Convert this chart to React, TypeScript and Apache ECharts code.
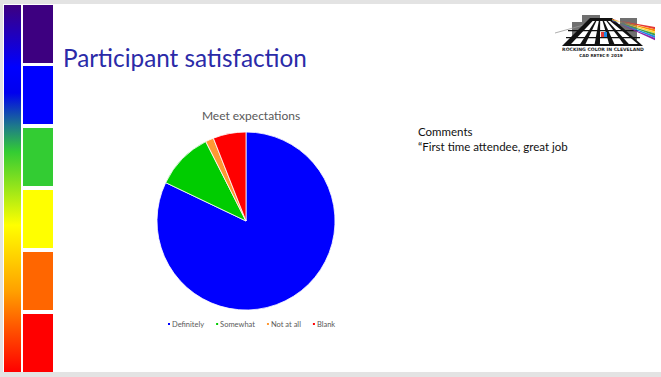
import React, { useEffect, useRef } from "react";
import * as echarts from "echarts";

const categories = ["Definitely", "Somewhat", "Not at all", "Blank"];
const counts = [55, 7, 1, 4];
const sliceColors = ["#0000FF", "#00CC00", "#FF9933", "#FF0000"];
const slideTitle = "Participant satisfaction";
const chartTitle = "Meet expectations";
const commentLines = ["Comments", "\u201CFirst time attendee, great job"];
const squareColors = ["#3D0080", "#0000FF", "#33CC33", "#FFFF00", "#FF6600", "#FF0000"];
const rainbow = ["#E53935", "#FB8C00", "#FDD835", "#43A047", "#1E88E5", "#8E24AA"];

export default function App() {
  const ref = useRef<HTMLDivElement>(null);
  useEffect(() => {
    document.body.style.margin = "0";
    const chart = echarts.init(ref.current!, undefined, { renderer: "svg" });
    const graphics: any[] = [];
    graphics.push({ type: "rect", shape: { x: 0, y: 0, width: 661, height: 4 }, style: { fill: "#E3E3E3" }, silent: true });
    graphics.push({ type: "rect", shape: { x: 0, y: 372, width: 661, height: 5 }, style: { fill: "#E3E3E3" }, silent: true });
    graphics.push({ type: "rect", shape: { x: 0, y: 0, width: 3, height: 377 }, style: { fill: "#E3E3E3" }, silent: true });
    graphics.push({
      type: "rect",
      shape: { x: 4, y: 5, width: 17, height: 367 },
      style: {
        fill: new echarts.graphic.LinearGradient(0, 0, 0, 1, [
          { offset: 0, color: "#3D0080" },
          { offset: 0.17, color: "#0000FF" },
          { offset: 0.24, color: "#0000EE" },
          { offset: 0.33, color: "#1E7A8A" },
          { offset: 0.4, color: "#33CC33" },
          { offset: 0.6, color: "#FFFF00" },
          { offset: 0.78, color: "#FFA000" },
          { offset: 0.88, color: "#FF5500" },
          { offset: 1, color: "#FF0000" },
        ]),
      },
      silent: true,
    });
    const sq = [5, 66, 128, 190, 252, 314];
    squareColors.forEach((c, i) => {
      graphics.push({ type: "rect", shape: { x: 23, y: sq[i], width: 30, height: 58 }, style: { fill: c }, silent: true });
    });
    graphics.push({
      type: "text", x: 63, y: 45,
      style: { text: slideTitle, fontSize: 24.3, fontFamily: "Lato, 'Open Sans', sans-serif", fill: "#2B2BA8" },
    });
    commentLines.forEach((t, i) => {
      graphics.push({
        type: "text", x: 418, y: 125 + i * 15,
        style: { text: t, fontSize: 11.5, fontFamily: "Lato, 'Open Sans', sans-serif", fill: "#111" },
      });
    });
    const logo: any[] = [];
    logo.push({ type: "polygon", shape: { points: [[572, 22], [582, 22], [582, 15], [600, 15], [600, 24], [620, 24], [620, 18], [637, 18], [637, 40], [572, 40]] }, style: { fill: "#707070" } });
    logo.push({ type: "line", shape: { x1: 555, y1: 33, x2: 605, y2: 19 }, style: { stroke: "#999", lineWidth: 0.8 } });
    logo.push({ type: "polygon", shape: { points: [[590, 18], [612, 18], [643, 46], [562, 46]] }, style: { fill: "#111" } });
    for (let k = 0; k < 5; k++) {
      const t0 = 0.08 + k * 0.19;
      const t1 = t0 + 0.12;
      const top0 = 591 + t0 * 20, top1 = 591 + t1 * 20;
      const bot0 = 565 + t0 * 76, bot1 = 565 + t1 * 76;
      logo.push({ type: "polygon", shape: { points: [[top0, 21], [top1, 21], [bot1, 44], [bot0, 44]] }, style: { fill: "#FFFFFF" } });
    }
    logo.push({ type: "rect", shape: { x: 568, y: 30, width: 70, height: 1.2 }, style: { fill: "#111" } });
    logo.push({ type: "rect", shape: { x: 566, y: 37, width: 74, height: 1.2 }, style: { fill: "#111" } });
    rainbow.forEach((c, i) => {
      logo.push({ type: "polygon", shape: { points: [[612, 19 + i * 0.3], [612, 19.6 + i * 0.3], [655, 27 + i * 2.2], [655, 29.2 + i * 2.2]] }, style: { fill: c } });
    });
    logo.push({ type: "rect", shape: { x: 601, y: 32, width: 3, height: 5 }, style: { fill: "#E53935" } });
    logo.push({ type: "rect", shape: { x: 604, y: 32, width: 3, height: 5 }, style: { fill: "#1E88E5" } });
    logo.push({ type: "text", x: 603, y: 49, style: { text: "ROCKING COLOR IN CLEVELAND", fontSize: 4.6, fontWeight: "bold", fill: "#222", align: "center", verticalAlign: "middle", fontFamily: "'DejaVu Sans', sans-serif" } });
    logo.push({ type: "text", x: 601, y: 55, style: { text: "CAD RETEC\u00AE 2019", fontSize: 4.2, fontWeight: "bold", fill: "#222", align: "center", verticalAlign: "middle", fontFamily: "'DejaVu Sans', sans-serif" } });
    graphics.push({ type: "group", children: logo, silent: true });

    chart.setOption({
      animation: false,
      backgroundColor: "#FFFFFF",
      title: {
        text: chartTitle, left: 246, top: 104, textAlign: "center",
        textStyle: { fontSize: 12, fontWeight: "normal", color: "#595959", fontFamily: "Lato, 'Open Sans', sans-serif" },
      },
      legend: {
        data: categories, top: 315, left: 161, icon: "rect", itemWidth: 4, itemHeight: 4, itemGap: 10,
        textStyle: { fontSize: 7.5, color: "#595959", fontFamily: "Lato, 'Open Sans', sans-serif", padding: [0, 0, 0, -4] },
        selectedMode: false,
      },
      graphic: graphics,
      series: [{
        type: "pie",
        center: [246, 221],
        radius: 89,
        startAngle: 90,
        clockwise: true,
        label: { show: false },
        labelLine: { show: false },
        itemStyle: { borderColor: "#FFFFFF", borderWidth: 0.8 },
        data: categories.map((c, i) => ({ name: c, value: counts[i], itemStyle: { color: sliceColors[i] } })),
      }],
    });
    return () => chart.dispose();
  }, []);
  return <div ref={ref} style={{ width: 661, height: 377 }} />;
}
